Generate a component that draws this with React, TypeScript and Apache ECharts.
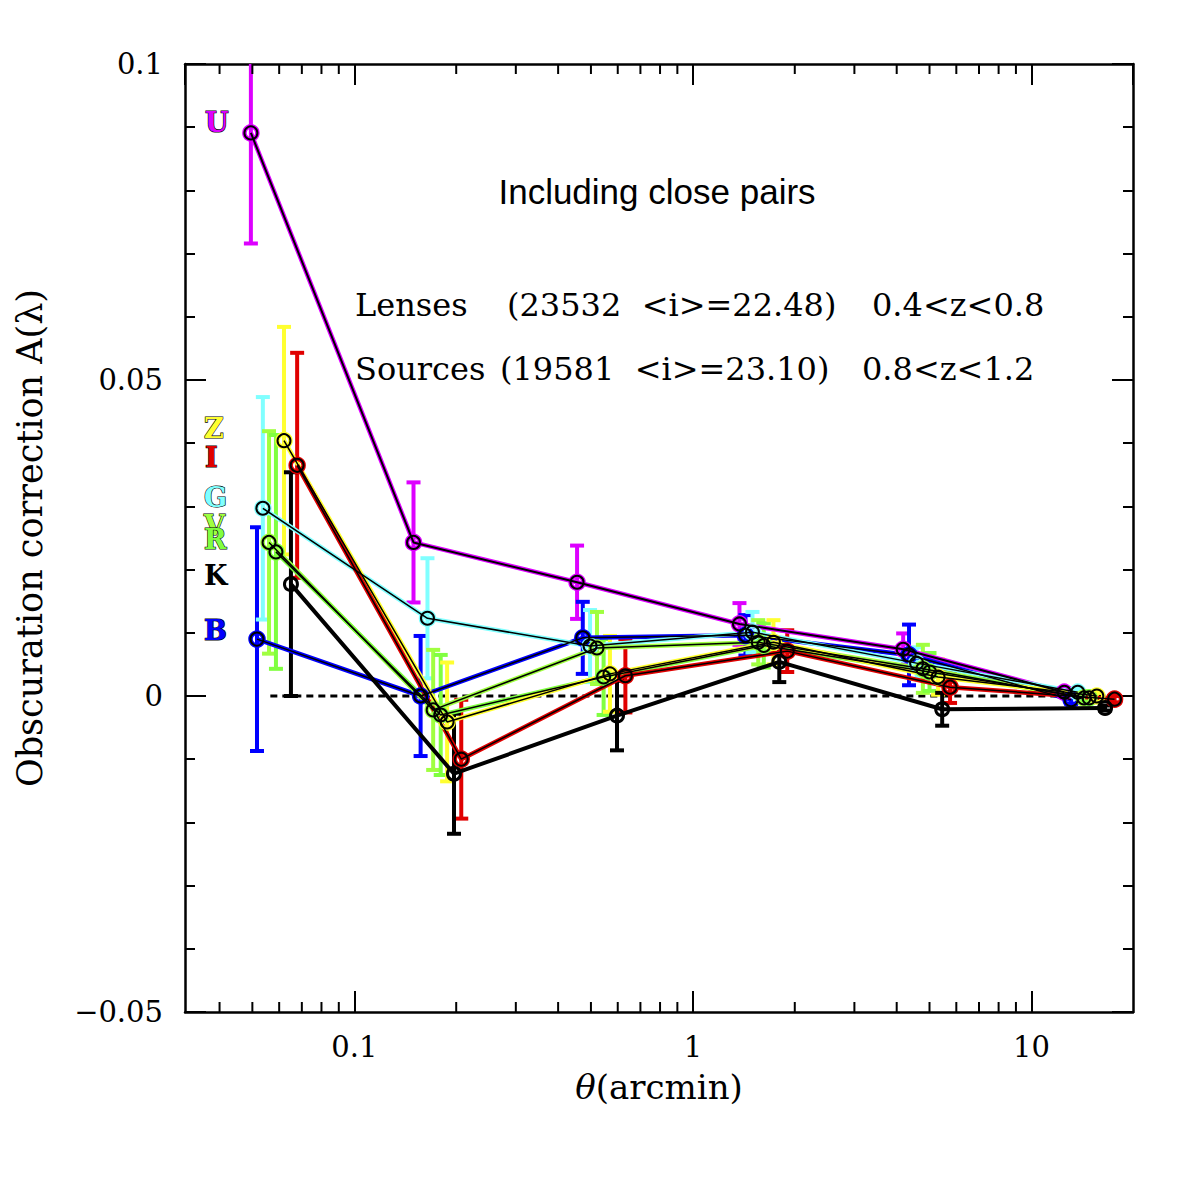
import React, { useEffect, useRef } from "react";
import * as echarts from "echarts";

// ---- data ----
const uX = [0.0495, 0.1496, 0.455, 1.373, 4.18, 12.5];
const uY = [0.0891, 0.0243, 0.018, 0.0114, 0.0074, 0.0006];
const uErr = [0.0175, 0.0095, 0.0058, 0.0033, 0.0025, 0.0006];

const bX = [0.0516, 0.157, 0.473, 1.43, 4.35, 13.1];
const bY = [0.009, 0.0, 0.0092, 0.0096, 0.0065, -0.0006];
const bErr = [0.0177, 0.0095, 0.0057, 0.0032, 0.0048, 0.0006];

const gX = [0.0537, 0.1645, 0.497, 1.5, 4.58, 13.7];
const gY = [0.0297, 0.0123, 0.0079, 0.0101, 0.0052, 0.0006];
const gErr = [0.0176, 0.0095, 0.0057, 0.0032, 0.0025, 0.0005];

const vX = [0.056, 0.171, 0.521, 1.56, 4.78, 14.3];
const vY = [0.0243, -0.0022, 0.0076, 0.0085, 0.0043, -0.0003];
const vErr = [0.0176, 0.0095, 0.0057, 0.0035, 0.0038, 0.0005];

const rX = [0.0587, 0.18, 0.545, 1.62, 5.0, 14.8];
const rY = [0.0228, -0.003, 0.003, 0.008, 0.0038, -0.0003];
const rErr = [0.0185, 0.0095, 0.006, 0.0035, 0.003, 0.0005];

const zX = [0.062, 0.188, 0.569, 1.73, 5.3, 15.6];
const zY = [0.0404, -0.0041, 0.0035, 0.0085, 0.003, 0.0];
const zErr = [0.018, 0.0094, 0.006, 0.0035, 0.0028, 0.0005];

const kX = [0.065, 0.197, 0.597, 1.8, 5.45, 16.5];
const kY = [0.0177, -0.0123, -0.0031, 0.0054, -0.0021, -0.0019];
const kErr = [0.0177, 0.0095, 0.0055, 0.0032, 0.0026, 0.0004];

const iX = [0.0678, 0.207, 0.632, 1.9, 5.75, 17.6];
const iY = [0.0365, -0.01, 0.0032, 0.0071, 0.0014, -0.0005];
const iErr = [0.0178, 0.0094, 0.0058, 0.0033, 0.0025, 0.0005];

const zeroLineX = [0.0565, 17.0];
const xMinorTicks = [0.04, 0.05, 0.06, 0.07, 0.08, 0.09, 0.2, 0.3, 0.4, 0.5, 0.6, 0.7, 0.8, 0.9, 2, 3, 4, 5, 6, 7, 8, 9];
const yTickValues = [-0.05, 0, 0.05, 0.1];

const bands = [
  { name: "U", color: "#dd00ff", xs: uX, ys: uY, es: uErr },
  { name: "B", color: "#0000ff", xs: bX, ys: bY, es: bErr },
  { name: "G", color: "#80ffff", xs: gX, ys: gY, es: gErr },
  { name: "V", color: "#a0ff40", xs: vX, ys: vY, es: vErr },
  { name: "R", color: "#80ff40", xs: rX, ys: rY, es: rErr },
  { name: "Z", color: "#ffff30", xs: zX, ys: zY, es: zErr },
  { name: "I", color: "#e00000", xs: iX, ys: iY, es: iErr },
  { name: "K", color: "#000000", xs: kX, ys: kY, es: kErr },
];

const SERIF = '"DejaVu Serif"';

function buildOption() {
  const series: any[] = [];

  // error bars
  bands.forEach((b) => {
    series.push({
      type: "custom",
      name: b.name + "-err",
      z: 2,
      encode: { x: 0, y: 1 },
      data: b.xs.map((x, i) => [x, b.ys[i], b.es[i]]),
      renderItem: (params: any, api: any) => {
        const x = api.value(0);
        const y = api.value(1);
        const e = api.value(2);
        const cs = params.coordSys;
        const p = api.coord([x, y]);
        const t = api.coord([x, y + e])[1];
        const bt = api.coord([x, y - e])[1];
        const yMin = cs.y;
        const yMax = cs.y + cs.height;
        const stroke = { stroke: b.color, lineWidth: 4 };
        const children: any[] = [
          {
            type: "line",
            shape: { x1: p[0], y1: Math.max(t, yMin), x2: p[0], y2: Math.min(bt, yMax) },
            style: stroke,
          },
        ];
        if (t >= yMin)
          children.push({ type: "line", shape: { x1: p[0] - 7, y1: t, x2: p[0] + 7, y2: t }, style: stroke });
        if (bt <= yMax)
          children.push({ type: "line", shape: { x1: p[0] - 7, y1: bt, x2: p[0] + 7, y2: bt }, style: stroke });
        return { type: "group", children };
      },
    });
  });

  // zero dotted line
  series.push({
    type: "line",
    name: "zero",
    z: 1,
    data: zeroLineX.map((x) => [x, 0]),
    symbol: "none",
    lineStyle: { color: "#000", width: 3, type: [7, 5] },
  });

  // coloured lines (halo) and black core lines with circles
  bands.forEach((b) => {
    const isK = b.name === "K";
    const data = b.xs.map((x, i) => [x, b.ys[i]]);
    if (!isK) {
      series.push({
        type: "line",
        name: b.name + "-halo",
        z: 3,
        data,
        symbol: "circle",
        symbolSize: 13,
        itemStyle: { color: "rgba(0,0,0,0)", borderColor: b.color, borderWidth: 4.5 },
        lineStyle: { color: b.color, width: 4.5 },
      });
    }
    series.push({
      type: "line",
      name: b.name,
      z: 4,
      data,
      symbol: "circle",
      symbolSize: 13,
      itemStyle: { color: "rgba(0,0,0,0)", borderColor: "#000", borderWidth: isK ? 3 : 2 },
      lineStyle: { color: "#000", width: isK ? 4 : b.name === "U" ? 2 : 1.5 },
    });
  });

  // minor ticks on log axis
  series.push({
    type: "custom",
    name: "xminor",
    z: 5,
    silent: true,
    encode: { x: 0, y: 1 },
    data: xMinorTicks.map((x) => [x, 0]),
    renderItem: (params: any, api: any) => {
      const cs = params.coordSys;
      const px = api.coord([api.value(0), 0])[0];
      const bot = cs.y + cs.height;
      const top = cs.y;
      const st = { stroke: "#000", lineWidth: 2 };
      return {
        type: "group",
        children: [
          { type: "line", shape: { x1: px, y1: bot, x2: px, y2: bot - 10 }, style: st },
          { type: "line", shape: { x1: px, y1: top, x2: px, y2: top + 10 }, style: st },
        ],
      };
    },
  });

  const yFmt = (v: number) => {
    const r = Math.round(v * 1000) / 1000;
    if (!yTickValues.some((t) => Math.abs(t - r) < 1e-9)) return "";
    if (r === 0) return "0";
    return r < 0 ? "\u2212" + String(-r) : String(r);
  };
  const xFmt = (v: number) => {
    const l = Math.log10(v);
    if (Math.abs(l - Math.round(l)) > 1e-6) return "";
    return v >= 1 ? String(Math.round(v)) : String(Number(v.toPrecision(1)));
  };

  const axisLine = { show: true, onZero: false, lineStyle: { color: "#000", width: 2.5 } };
  const tickCommon = { show: true, inside: true, length: 21, lineStyle: { color: "#000", width: 2 } };
  const minorCommon = { show: true, splitNumber: 5, length: 10, lineStyle: { color: "#000", width: 2 } };

  const xBase = {
    type: "log",
    logBase: 10,
    min: 0.031623,
    max: 19.953,
    axisLine,
    axisTick: tickCommon,
    splitLine: { show: false },
  };
  const yBase = {
    type: "value",
    min: -0.05,
    max: 0.1,
    interval: 0.05,
    axisLine,
    axisTick: tickCommon,
    minorTick: minorCommon,
    splitLine: { show: false },
    minorSplitLine: { show: false },
  };

  const labels = [
    { t: "U", c: "#dd00ff", x: 205, y: 122 },
    { t: "Z", c: "#ffff30", x: 204, y: 428 },
    { t: "I", c: "#e00000", x: 205, y: 457 },
    { t: "G", c: "#80ffff", x: 204, y: 497 },
    { t: "V", c: "#a0ff40", x: 204, y: 525 },
    { t: "R", c: "#80ff40", x: 204, y: 539 },
    { t: "K", c: "#000000", x: 204, y: 575 },
    { t: "B", c: "#0000ff", x: 204, y: 630 },
  ];

  const graphic: any[] = labels.map((l) => ({
    type: "text",
    x: l.x,
    y: l.y,
    z: 10,
    style: {
      text: l.t,
      font: `bold 27px ${SERIF}`,
      fill: l.c,
      stroke: "#000",
      lineWidth: l.t === "K" ? 0 : 1.2,
      align: "left",
      verticalAlign: "middle",
    },
  }));

  const txt = (text: string, x: number, y: number, font: string, align = "left") => ({
    type: "text",
    x,
    y,
    z: 10,
    style: { text, font, fill: "#000", align, verticalAlign: "middle" },
  });
  const f32 = `32px ${SERIF}`;
  graphic.push(txt("Including close pairs", 657, 191, '35px "Liberation Sans"', "center"));
  graphic.push(txt("Lenses", 355, 305, f32));
  graphic.push(txt("(23532  <i>=22.48)", 507, 305, f32));
  graphic.push(txt("0.4<z<0.8", 872, 305, f32));
  graphic.push(txt("Sources", 355, 369, f32));
  graphic.push(txt("(19581  <i>=23.10)", 500, 369, f32));
  graphic.push(txt("0.8<z<1.2", 862, 369, f32));

  return {
    animation: false,
    backgroundColor: "#fff",
    grid: { left: 185, top: 64, width: 948, height: 948, containLabel: false },
    xAxis: [
      {
        ...xBase,
        position: "bottom",
        name: "{th|θ}(arcmin)",
        nameLocation: "middle",
        nameGap: 58,
        nameTextStyle: {
          fontFamily: SERIF,
          fontSize: 34,
          color: "#000",
          rich: { th: { fontFamily: SERIF, fontStyle: "italic", fontSize: 34, color: "#000" } },
        },
        axisLabel: {
          show: true,
          formatter: xFmt,
          margin: 20,
          fontFamily: SERIF,
          fontSize: 29,
          color: "#000",
          showMinLabel: false,
          showMaxLabel: false,
        },
      },
      { ...xBase, position: "top", axisLabel: { show: false } },
    ],
    yAxis: [
      {
        ...yBase,
        position: "left",
        name: "Obscuration correction A(λ)",
        nameLocation: "middle",
        nameGap: 138,
        nameRotate: 90,
        nameTextStyle: { fontFamily: SERIF, fontSize: 35, color: "#000" },
        axisLabel: {
          show: true,
          formatter: yFmt,
          margin: 22,
          fontFamily: SERIF,
          fontSize: 29,
          color: "#000",
        },
      },
      { ...yBase, position: "right", axisLabel: { show: false } },
    ],
    graphic,
    series,
  };
}

export default function App() {
  const ref = useRef<HTMLDivElement>(null);
  useEffect(() => {
    if (!ref.current) return;
    const chart = echarts.init(ref.current, undefined, { renderer: "svg" });
    chart.setOption(buildOption() as any);
    return () => chart.dispose();
  }, []);
  return (
    <div
      ref={ref}
      style={{ position: "absolute", left: 0, top: 0, width: 1195, height: 1195, background: "#fff" }}
    />
  );
}
